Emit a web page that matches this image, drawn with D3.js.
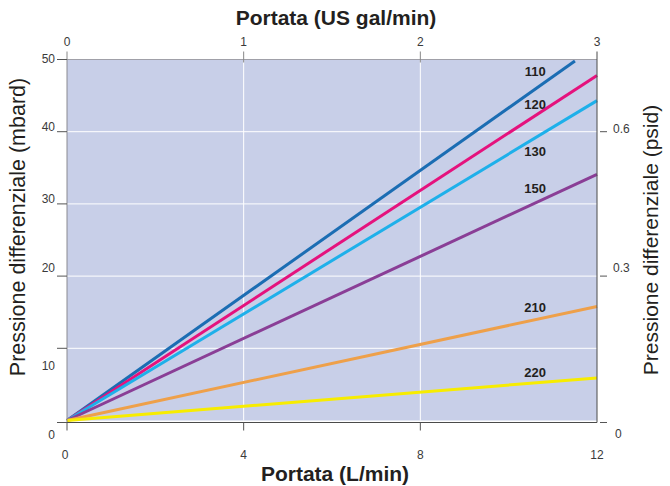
<!DOCTYPE html>
<html>
<head>
<meta charset="utf-8">
<script src="https://cdn.jsdelivr.net/npm/d3@7"></script>
<style>
  body { margin: 0; background: #fff; }
  svg text { font-family: "Liberation Sans", Arial, sans-serif; }
</style>
</head>
<body>
<div id="chart"></div>
<script>
/* ── Data ─────────────────────────────────────────────────────────── */
const SERIES_NAMES  = ['110', '120', '130', '150', '210', '220'];
const SERIES_COLORS = ['#1b6db3', '#e5127d', '#1eb0ea', '#8a3e96', '#eea04a', '#f7ec00'];
// [portata L/min, pressione mbar] start / end of each curve
const SERIES_START  = [[0, 0], [0, 0], [0, 0], [0, 0], [0, 0], [0, 0]];
const SERIES_END    = [[11.5, 49.8], [12, 47.8], [12, 44.3], [12, 34.1], [12, 15.8], [12, 5.9]];
// label anchor (mbar) for each curve name
const LABEL_FLOW    = 10.6;
const LABEL_MBAR    = [48.3, 43.8, 37.2, 32.1, 15.7, 6.6];

const LPM_TICKS  = [0, 4, 8, 12];
const GPM_TICKS  = [0, 1, 2, 3];
const MBAR_TICKS = [0, 10, 20, 30, 40, 50];
const PSID_TICKS = [0, 0.3, 0.6];

/* ── Layout ───────────────────────────────────────────────────────── */
const W = 670, H = 486;
const X0 = 67, X1 = 597, Y0 = 420.5, Y1 = 59.5;

const svg = d3.select('#chart').append('svg')
  .attr('width', W).attr('height', H);

const x    = d3.scaleLinear().domain([0, 12]).range([X0, X1]);
const xTop = d3.scaleLinear().domain([0, 3]).range([X0, X1]);
const y    = d3.scaleLinear().domain([0, 50]).range([Y0, Y1]);
const yR   = d3.scaleLinear().domain([0, 0.75]).range([Y0, Y1]);

/* ── Plot background + grid ───────────────────────────────────────── */
svg.append('rect')
  .attr('x', X0).attr('y', Y1)
  .attr('width', X1 - X0).attr('height', Y0 - Y1)
  .attr('fill', '#c8cfe8');

svg.append('g').selectAll('line')
  .data(MBAR_TICKS.filter(d => d > 0 && d < 50))
  .join('line')
  .attr('x1', X0).attr('x2', X1)
  .attr('y1', d => y(d)).attr('y2', d => y(d))
  .attr('stroke', '#fff').attr('stroke-width', 1);

svg.append('g').selectAll('line')
  .data(LPM_TICKS.filter(d => d > 0 && d < 12))
  .join('line')
  .attr('x1', d => x(d)).attr('x2', d => x(d))
  .attr('y1', Y1).attr('y2', Y0)
  .attr('stroke', '#fff').attr('stroke-width', 1);

/* ── Curves ───────────────────────────────────────────────────────── */
const line = d3.line().x(d => x(d[0])).y(d => y(d[1]));

svg.append('g').selectAll('path')
  .data(SERIES_NAMES)
  .join('path')
  .attr('d', (_, i) => line([SERIES_START[i], SERIES_END[i]]))
  .attr('stroke', (_, i) => SERIES_COLORS[i])
  .attr('stroke-width', 3)
  .attr('stroke-linecap', 'butt')
  .attr('fill', 'none');

svg.append('g').selectAll('text')
  .data(SERIES_NAMES)
  .join('text')
  .attr('x', x(LABEL_FLOW))
  .attr('y', (_, i) => y(LABEL_MBAR[i]))
  .attr('dy', '0.35em')
  .attr('text-anchor', 'middle')
  .attr('font-size', '13px')
  .attr('font-weight', 'bold')
  .attr('fill', '#231f20')
  .text(d => d);

/* ── Frame ────────────────────────────────────────────────────────── */
const frame = svg.append('g').attr('stroke-width', 1).attr('fill', 'none');
frame.append('line').attr('x1', X0).attr('x2', X1).attr('y1', Y1).attr('y2', Y1).attr('stroke', '#a0a0a8');
frame.append('line').attr('x1', X0).attr('x2', X0).attr('y1', Y1).attr('y2', Y0 + 2).attr('stroke', '#8a8a90');
frame.append('line').attr('x1', X0).attr('x2', X1).attr('y1', Y0 + 2).attr('y2', Y0 + 2).attr('stroke', '#4a4a4a');
frame.append('line').attr('x1', X1).attr('x2', X1).attr('y1', Y1 - 8).attr('y2', Y0 + 2).attr('stroke', '#4a4a4a');

/* ── Axes: ticks + labels ─────────────────────────────────────────── */
const tickClr = '#555', lblClr = '#3a3a3a';

// bottom L/min
const axBot = svg.append('g');
axBot.selectAll('line').data(LPM_TICKS.slice(0, 3)).join('line')
  .attr('x1', d => x(d)).attr('x2', d => x(d))
  .attr('y1', Y0 + 2).attr('y2', Y0 + 10)
  .attr('stroke', tickClr);
axBot.selectAll('text').data(LPM_TICKS).join('text')
  .attr('x', d => x(d) - (d === 0 ? 2 : 0)).attr('y', 459)
  .attr('text-anchor', 'middle').attr('font-size', '12px').attr('fill', lblClr)
  .text(d => d);

// top US gal/min
const axTop = svg.append('g');
axTop.selectAll('line').data(GPM_TICKS.slice(0, 3)).join('line')
  .attr('x1', d => xTop(d)).attr('x2', d => xTop(d))
  .attr('y1', Y1 - 8)
  .attr('y2', d => d === 0 ? Y1 : Y1 + 3)
  .attr('stroke', '#888');
axTop.selectAll('text').data(GPM_TICKS).join('text')
  .attr('x', d => xTop(d)).attr('y', 46)
  .attr('text-anchor', 'middle').attr('font-size', '12px').attr('fill', lblClr)
  .text(d => d);

// left mbar
const lblDy = d => d === 0 ? 14 : d === 10 ? 17 : d === 50 ? -1 : d === 20 ? -8 : -5;
const axLeft = svg.append('g');
axLeft.selectAll('line').data(MBAR_TICKS).join('line')
  .attr('x1', X0 - 10).attr('x2', X0)
  .attr('y1', d => d === 0 ? Y0 + 2 : y(d)).attr('y2', d => d === 0 ? Y0 + 2 : y(d))
  .attr('stroke', tickClr);
axLeft.selectAll('text').data(MBAR_TICKS).join('text')
  .attr('x', 55).attr('y', d => y(d) + lblDy(d))
  .attr('dy', '0.35em')
  .attr('text-anchor', 'end').attr('font-size', '12px').attr('fill', lblClr)
  .text(d => d);

// right psid
const rLblDy = d => d === 0 ? 13 : d === 0.3 ? -8 : -3;
const axRight = svg.append('g');
axRight.selectAll('line').data(PSID_TICKS).join('line')
  .attr('x1', X1 + 3).attr('x2', X1 + 10)
  .attr('y1', d => d === 0 ? Y0 + 2 : yR(d)).attr('y2', d => d === 0 ? Y0 + 2 : yR(d))
  .attr('stroke', tickClr);
axRight.selectAll('text').data(PSID_TICKS).join('text')
  .attr('x', d => d === 0 ? 615 : 613).attr('y', d => yR(d) + rLblDy(d))
  .attr('dy', '0.35em')
  .attr('text-anchor', 'start').attr('font-size', '12px').attr('fill', lblClr)
  .text(d => d === 0 ? '0' : d3.format('.1f')(d));

/* ── Titles ───────────────────────────────────────────────────────── */
svg.append('text')
  .attr('x', 336).attr('y', 25)
  .attr('text-anchor', 'middle').attr('font-size', '21px').attr('font-weight', 'bold')
  .attr('fill', '#231f20')
  .text('Portata (US gal/min)');

svg.append('text')
  .attr('x', 335).attr('y', 481)
  .attr('text-anchor', 'middle').attr('font-size', '21px').attr('font-weight', 'bold')
  .attr('fill', '#231f20')
  .text('Portata (L/min)');

svg.append('text')
  .attr('transform', 'translate(25,227) rotate(-90)')
  .attr('text-anchor', 'middle').attr('font-size', '21.5px')
  .attr('fill', '#231f20')
  .text('Pressione differenziale (mbard)');

svg.append('text')
  .attr('transform', 'translate(658,240) rotate(-90)')
  .attr('text-anchor', 'middle').attr('font-size', '21px')
  .attr('fill', '#231f20')
  .text('Pressione differenziale (psid)');
</script>
</body>
</html>
